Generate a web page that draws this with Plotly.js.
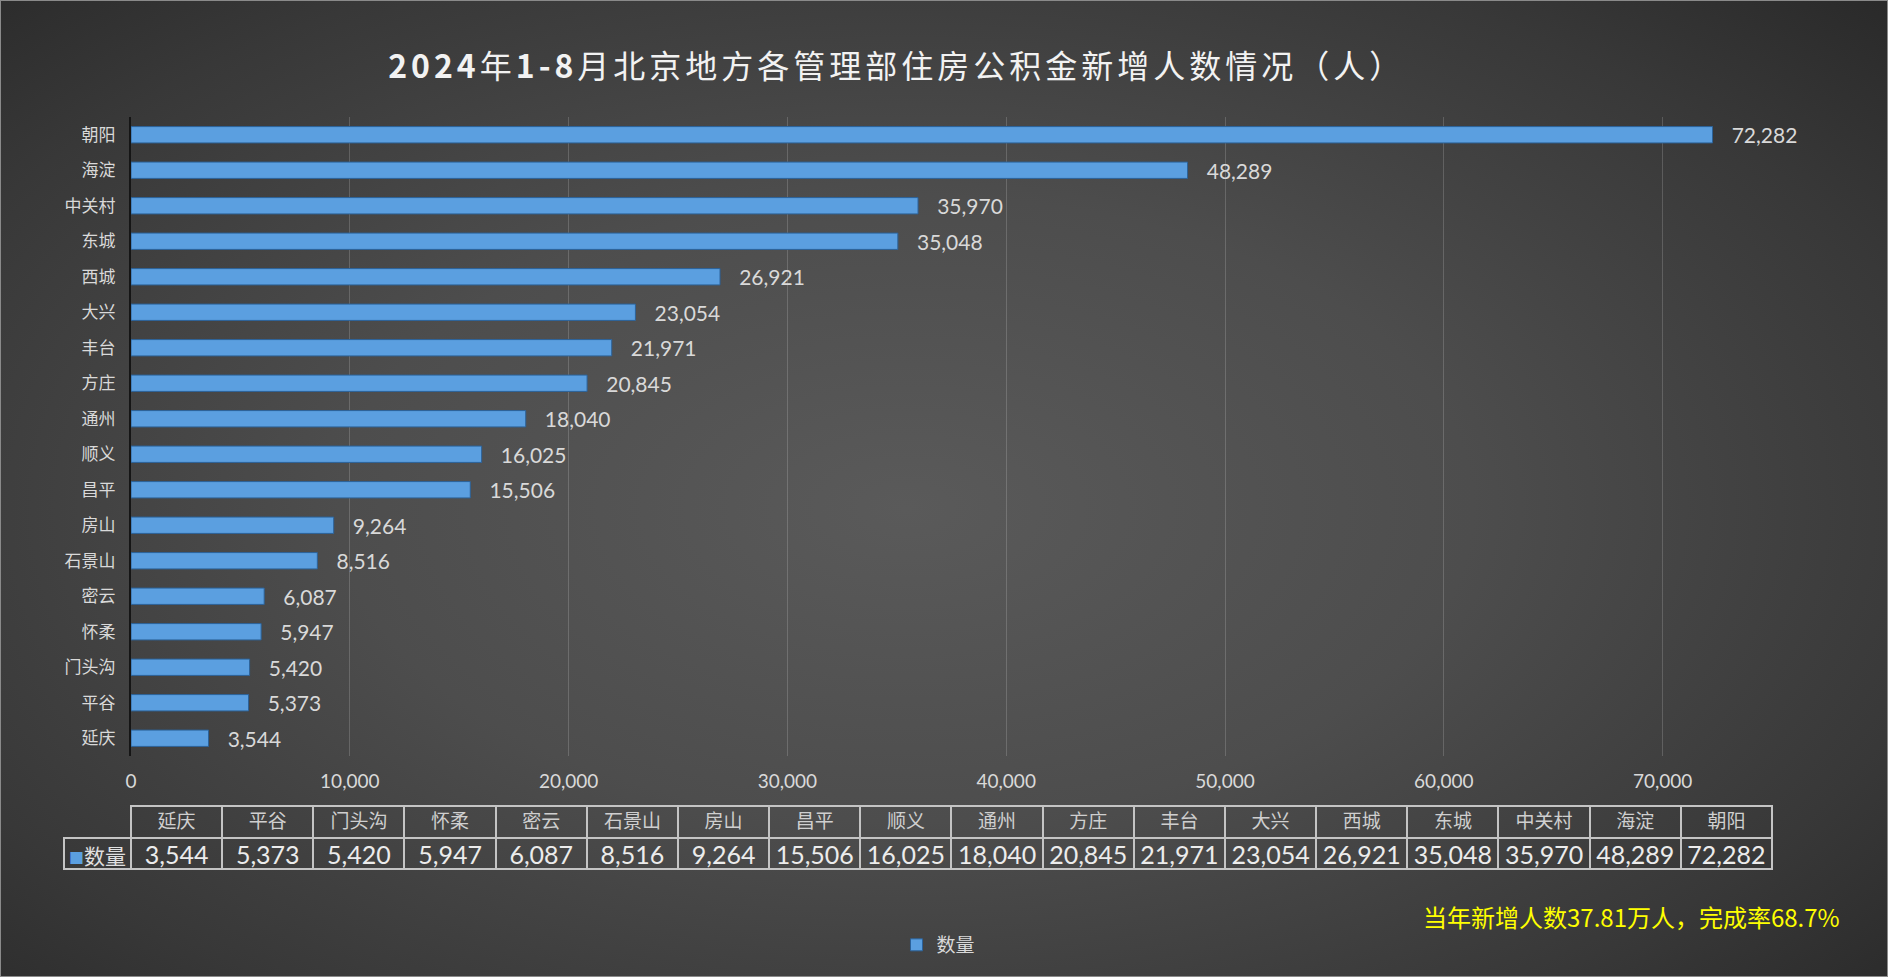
<!DOCTYPE html>
<html>
<head>
<meta charset="utf-8">
<script src="https://cdn.plot.ly/plotly-3.0.1.min.js"></script>
<style>
  html, body { margin:0; padding:0; width:1888px; height:977px; overflow:hidden; }
  #wrap { position:absolute; left:0; top:0; width:1888px; height:977px;
    background: radial-gradient(ellipse 75% 80% at 48% 52%, #5a5a5a 0%, #4d4d4d 40%, #383838 75%, #262626 100%);
    box-shadow: inset 0 0 0 1px #8a8a8a; }
  #chart { width:1888px; height:977px; }
  .gtitle { letter-spacing: 4px; }
</style>
</head>
<body>
<div id="wrap"><div id="chart"></div></div>
<script>
// ---- data ----
const titleText = '<b>2024</b>年<b>1-8</b>月北京地方各管理部住房公积金新增人数情况（人）';
const categories = ['延庆','平谷','门头沟','怀柔','密云','石景山','房山','昌平','顺义','通州','方庄','丰台','大兴','西城','东城','中关村','海淀','朝阳'];
const values = [3544,5373,5420,5947,6087,8516,9264,15506,16025,18040,20845,21971,23054,26921,35048,35970,48289,72282];
const seriesName = '数量';
const xTickVals = [0,10000,20000,30000,40000,50000,60000,70000];
const noteText = '当年新增人数37.81万人，完成率68.7%';

// ---- styles ----
const barColor = '#5B9FE0';
const textColor = '#d9d9d9';
const cjk = '"Noto Sans CJK SC", "Noto Sans", sans-serif';
const num = 'Lato, "Open Sans", "Noto Sans CJK SC", sans-serif';

const fmt = v => v.toLocaleString('en-US');

const barTrace = {
  type: 'bar', orientation: 'h',
  y: categories, x: values, name: seriesName,
  marker: { color: barColor, line: { color: '#2c6299', width: 1 } },
  texttemplate: '\u00a0\u00a0\u00a0%{x:,}', textposition: 'outside', constraintext: 'none',
  textfont: { family: num, size: 21, color: textColor },
  cliponaxis: false, hoverinfo: 'none'
};

const colW = [67].concat(categories.map(() => 91.2));
const headerVals = [''].concat(categories);
const cellVals = [['']].concat(values.map(v => [fmt(v)]));
const lineCol = '#c4c4c4';

const tableTrace = {
  type: 'table',
  domain: { x: [0, 1], y: [0, 0.088] },
  columnwidth: colW,
  header: {
    values: headerVals,
    height: 32,
    align: 'center',
    fill: { color: 'rgba(0,0,0,0)' },
    line: { color: ['rgba(0,0,0,0)'].concat(categories.map(() => lineCol)), width: 2 },
    font: { family: cjk, size: 19, color: '#cfcfcf' }
  },
  cells: {
    values: cellVals,
    height: 31,
    align: 'center',
    fill: { color: 'rgba(0,0,0,0)' },
    line: { color: lineCol, width: 2 },
    font: { family: num, size: 25, color: '#ececec' }
  }
};

const layout = {
  width: 1888, height: 977,
  margin: { l: 64, r: 116, t: 117, b: 105, pad: 0 },
  paper_bgcolor: 'rgba(0,0,0,0)', plot_bgcolor: 'rgba(0,0,0,0)',
  title: { text: titleText, x: 0.475, xref: 'container', y: 0.932, yref: 'container', yanchor: 'middle', xanchor: 'center',
           font: { family: cjk, size: 32, color: '#f2f2f2' } },
  bargap: 0.54,
  showlegend: true,
  legend: { orientation: 'h', x: 0.512, xanchor: 'center', y: -0.0967, yanchor: 'middle', itemwidth: 30,
            font: { family: cjk, size: 19, color: textColor }, bgcolor: 'rgba(0,0,0,0)' },
  xaxis: {
    domain: [67/1708, 1], range: [0, 75000],
    tickvals: xTickVals, tickformat: ',',
    showgrid: true, gridcolor: 'rgba(255,255,255,0.17)', gridwidth: 1,
    zeroline: false, showline: false, ticks: '',
    ticklabelstandoff: 12,
    tickfont: { family: num, size: 19, color: textColor },
    fixedrange: true
  },
  yaxis: {
    domain: [(872-756)/755, 1],
    type: 'category',
    showgrid: false, zeroline: false,
    showline: true, linecolor: '#151515', linewidth: 2,
    ticks: '', ticklabelstandoff: 10,
    tickfont: { family: cjk, size: 17, color: textColor },
    fixedrange: true
  },
  annotations: [
    { text: noteText, xref: 'paper', yref: 'paper', x: 1.041, xanchor: 'right', y: -0.0596, yanchor: 'middle',
      showarrow: false, font: { family: cjk, size: 24, color: '#ffff00' } },
    { text: '<span style="color:' + barColor + ';font-size:15px">■</span>' + seriesName, xref: 'paper', yref: 'paper',
      x: (97.5 - 64) / 1708, xanchor: 'center', y: (872 - 855) / 755, yanchor: 'middle',
      showarrow: false, font: { family: cjk, size: 21, color: '#e0e0e0' } }
  ]
};

Plotly.newPlot('chart', [barTrace, tableTrace], layout, { staticPlot: true, displayModeBar: false });
</script>
</body>
</html>
